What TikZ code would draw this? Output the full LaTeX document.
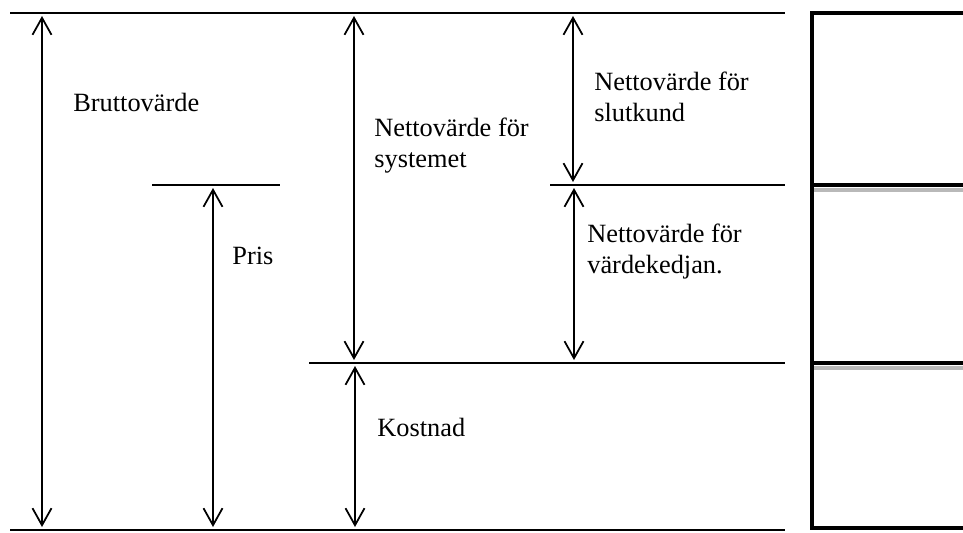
\documentclass[tikz,border=0pt]{standalone}
\usepackage{fontspec}
\setmainfont{Liberation Serif}
\usetikzlibrary{arrows.meta}

\begin{document}
\begin{tikzpicture}[x=0.02cm,y=-0.02cm]
\useasboundingbox (0,0) rectangle (963,532);
\begin{scope}[every node/.style={anchor=base west,inner sep=0pt,align=left,font=\fontsize{15}{17.1}\selectfont}]
    \node (Brutto) at (73,111) {Bruttovärde};
    \node (Pris) at (232,264) {Pris};
    \node (NSys) at (374,167) {Nettovärde för\\systemet};
    \node (Kost) at (377,436) {Kostnad};
    \node (NKund) at (594,121) {Nettovärde för\\slutkund};
    \node (NKed) at (587,273) {Nettovärde för\\värdekedjan.};
\end{scope}

% levels
\coordinate (TopL) at (10,13);   \coordinate (TopR) at (785,13);
\coordinate (BotL) at (10,530);  \coordinate (BotR) at (785,530);
\coordinate (PrisL) at (152,185); \coordinate (PrisR) at (280,185);
\coordinate (KundL) at (550,185); \coordinate (KundR) at (785,185);
\coordinate (KostL) at (309,363); \coordinate (KostR) at (785,363);

\begin{scope}[line width=1.1pt]
    \draw (TopL) -- (TopR);
    \draw (BotL) -- (BotR);
    \draw (PrisL) -- (PrisR);
    \draw (KundL) -- (KundR);
    \draw (KostL) -- (KostR);
\end{scope}

% arrow ends
\coordinate (A1) at (42,13);  \coordinate (B1) at (42,530);
\coordinate (A2) at (213,185); \coordinate (B2) at (213,530);
\coordinate (A3) at (354,13); \coordinate (B3) at (354,363);
\coordinate (A4) at (355,363); \coordinate (B4) at (355,530);
\coordinate (A5) at (573,13); \coordinate (B5) at (573,185);
\coordinate (A6) at (574,185); \coordinate (B6) at (574,363);

\begin{scope}[>={Straight Barb[length=0.34cm,width=0.38cm]},
              every edge/.style={draw,line width=1pt,<->,shorten <=0.06cm,shorten >=0.06cm}]
    \path (A1) edge (B1);
    \path (A2) edge (B2);
    \path (A3) edge (B3);
    \path (A4) edge (B4);
    \path (A5) edge (B5);
    \path (A6) edge (B6);
\end{scope}

% box on the right
\fill[gray!55] (814,188) rectangle (963,192);
\fill[gray!55] (814,366) rectangle (963,370);
\draw[line width=0.08cm] (963,13) -- (812,13) -- (812,528) -- (963,528);
\draw[line width=0.08cm] (812,185) -- (963,185);
\draw[line width=0.08cm] (812,363) -- (963,363);
\end{tikzpicture}
\end{document}
